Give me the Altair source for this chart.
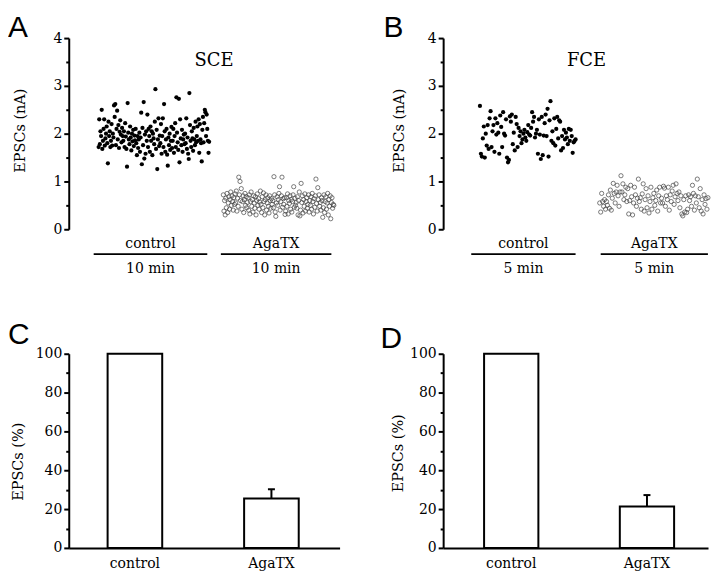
import altair as alt
import pandas as pd

SERIF = "DejaVu Serif"
SANS = "Liberation Sans"

# ---- Panel A (SCE): EPSC amplitude per sweep, nA ----
a_ctrl = [
    1.72, 2.30, 1.78, 2.05, 1.95, 2.50, 1.68, 1.85, 2.10, 2.30, 1.75, 1.90, 2.00, 2.15, 1.80, 1.38, 2.25, 1.95, 2.05, 1.72,
    1.85, 2.20, 1.75, 2.00, 1.92, 2.59, 2.35, 2.62, 1.76, 2.10, 2.48, 1.88, 2.18, 1.70, 2.04, 2.28, 1.98, 1.82, 2.12, 1.95,
    1.85, 2.05, 1.72, 2.22, 1.94, 1.68, 1.31, 2.64, 2.02, 1.88, 1.78, 2.15, 1.92, 1.65, 2.00, 1.84, 2.08, 1.74, 1.96, 1.86,
    2.10, 1.80, 1.55, 1.95, 1.70, 1.88, 2.02, 1.62, 1.92, 2.44, 1.36, 2.12, 1.76, 2.66, 1.48, 1.98, 1.58, 2.05, 1.85, 2.40,
    1.72, 2.10, 1.95, 1.62, 2.15, 1.85, 2.05, 1.55, 2.00, 1.90, 1.78, 2.25, 2.93, 1.68, 2.08, 1.26, 1.88, 2.32, 1.74, 1.96,
    1.80, 2.20, 1.58, 1.95, 2.32, 1.72, 2.62, 2.05, 1.62, 1.88, 2.10, 1.56, 1.33, 1.92, 1.76, 2.00, 1.66, 1.85, 2.14, 1.70,
    1.85, 2.10, 1.60, 1.95, 2.22, 1.72, 2.76, 2.02, 1.82, 1.66, 2.73, 1.40, 2.30, 1.90, 1.76, 2.08, 1.62, 1.88, 1.98, 1.78,
    2.00, 1.80, 2.32, 1.68, 1.92, 1.58, 1.47, 2.85, 2.18, 1.85, 1.72, 2.05, 1.90, 1.64, 2.12, 1.88, 1.76, 2.25, 1.82, 1.95,
    2.15, 1.85, 2.30, 1.60, 2.20, 1.88, 1.80, 1.42, 2.08, 2.35, 1.82, 2.22, 2.50, 2.45, 1.95, 2.40, 2.10, 1.85, 1.60, 1.83,
]
a_aga = [
    0.72, 0.38, 0.60, 0.30, 0.65, 0.45, 0.75, 0.35, 0.55, 0.68, 0.42, 0.62, 0.78, 0.50, 0.70, 0.58, 0.40, 0.66, 0.52, 0.74,
    0.55, 0.80, 0.38, 0.65, 0.48, 1.09, 0.72, 1.00, 0.60, 0.85, 0.42, 0.58, 0.70, 0.35, 0.62, 0.75, 0.50, 0.68, 0.45, 0.56,
    0.66, 0.40, 0.72, 0.32, 0.58, 0.78, 0.48, 0.62, 0.36, 0.70, 0.55, 0.44, 0.68, 0.30, 0.60, 0.74, 0.50, 0.64, 0.42, 0.57,
    0.80, 0.52, 0.35, 0.68, 0.45, 0.76, 0.58, 0.30, 0.62, 0.72, 0.40, 0.55, 0.66, 0.48, 0.34, 0.70, 0.60, 0.44, 0.64, 0.52,
    0.60, 0.45, 1.10, 0.72, 0.36, 0.27, 0.55, 0.68, 0.50, 0.62, 0.75, 0.89, 0.40, 0.58, 0.70, 1.09, 0.46, 0.64, 0.52, 0.66,
    0.31, 0.38, 0.66, 0.48, 0.74, 0.32, 0.60, 0.54, 0.70, 0.42, 0.62, 0.36, 0.58, 0.72, 0.89, 0.46, 0.65, 0.50, 0.56, 0.44,
    0.68, 0.30, 0.60, 0.78, 0.28, 0.40, 0.96, 0.56, 0.70, 0.34, 0.62, 0.48, 0.74, 0.38, 0.58, 0.66, 0.44, 0.52, 0.72, 0.36,
    0.60, 0.50, 0.68, 0.42, 0.75, 0.58, 0.32, 0.64, 0.46, 0.70, 1.05, 0.54, 0.38, 0.87, 0.62, 0.72, 0.48, 0.56, 0.40, 0.66,
    0.60, 0.25, 0.45, 0.72, 0.35, 0.58, 0.68, 0.42, 0.55, 0.75, 0.30, 0.62, 0.48, 0.70, 0.22, 0.56, 0.66, 0.44, 0.52, 0.50,
]
a_aga_first_sweep = 202

# ---- Panel B (FCE) ----
b_ctrl = [
    2.58, 1.58, 1.52, 1.90, 2.15, 1.50, 2.00, 1.75, 2.18, 1.68, 2.32, 2.47, 1.72, 2.05, 2.18, 1.62, 2.32, 1.98, 2.22, 2.02,
    1.58, 2.38, 2.14, 1.72, 2.45, 2.00, 1.96, 2.30, 1.50, 1.40, 1.45, 2.36, 2.25, 2.40, 1.78, 2.02, 1.65, 2.35, 2.20, 1.72,
    2.12, 1.95, 2.05, 1.80, 1.88, 2.00, 2.08, 1.92, 1.85, 2.03, 2.18, 1.98, 1.96, 2.12, 2.45, 2.25, 2.35, 1.92, 2.00, 2.08,
    1.58, 2.30, 1.98, 1.47, 2.35, 1.55, 1.96, 2.22, 2.40, 1.95, 2.52, 1.52, 2.28, 2.68, 1.85, 2.05, 1.80, 2.32, 1.75, 2.10,
    2.35, 1.90, 2.28, 2.25, 1.65, 1.95, 1.70, 2.08, 1.88, 2.02, 1.92, 1.78, 2.10, 1.85, 2.08, 1.95, 1.60, 1.82, 1.85, 1.88,
]
b_aga = [
    0.55, 0.36, 0.75, 0.58, 0.48, 0.62, 0.42, 0.58, 0.50, 0.72, 0.44, 0.82, 0.40, 0.65, 0.96, 0.75, 0.55, 0.78, 0.92, 0.70, 0.48, 0.78,
    1.12, 0.78, 0.95, 0.62, 0.72, 0.88, 0.58, 0.85, 0.32, 0.60, 0.92, 0.68, 0.30, 0.55, 0.88, 0.72, 0.48, 0.65, 1.05, 0.58, 0.66, 0.42, 0.74,
    0.95, 0.38, 0.62, 0.85, 0.45, 0.70, 0.34, 0.58, 0.88, 0.42, 0.66, 0.75, 0.50, 0.60, 0.82, 0.38, 0.70, 0.88, 0.55, 0.65, 0.55, 0.90,
    0.86, 0.48, 0.70, 0.62, 0.88, 0.40, 0.72, 0.58, 0.80, 0.92, 0.52, 0.68, 0.95, 0.75, 0.60, 0.78, 0.45, 0.70, 0.32, 0.28, 0.62, 0.36, 0.70,
    0.35, 0.42, 0.72, 0.60, 0.68, 0.48, 0.92, 0.75, 0.40, 0.70, 0.55, 1.05, 0.68, 0.45, 0.85, 0.38, 0.62, 0.32, 0.72, 0.52, 0.64, 0.42, 0.66,
]
b_aga_first_sweep = 124

# group brackets below the scatter panels (in sweep units)
grp_labels = ["control", "AgaTX"]
a_durs = ["10 min", "10 min"]
a_start = [-8, 198]
a_end = [176, 377]
b_durs = ["5 min", "5 min"]
b_start = [-9, 125]
b_end = [99, 236]

# ---- Panels C and D: normalized EPSCs (%) ----
conds = ["control", "AgaTX"]
c_mean = [100, 25.5]
c_err = [0, 4.7]
d_mean = [100, 21.3]
d_err = [0, 5.9]


def text_layer(txt, x, y, font, size, align="center"):
    return alt.Chart(pd.DataFrame({"t": [txt]})).mark_text(
        font=font, fontSize=size, align=align, baseline="alphabetic", color="black"
    ).encode(x=alt.value(x), y=alt.value(y), text="t:N")


def scatter_panel(ctrl, aga, aga_first, xdom, durs, starts, ends, title, title_x,
                  letter, letter_x, letter_y, ytx, yty, width, height):
    df = pd.DataFrame({
        "sweep": list(range(len(ctrl))) + list(range(aga_first, aga_first + len(aga))),
        "amp": ctrl + aga,
        "cond": ["control"] * len(ctrl) + ["AgaTX"] * len(aga),
    })
    xs = alt.Scale(domain=xdom, nice=False, zero=False)
    ys = alt.Scale(domain=[0, 4], nice=False, zero=True)
    major = alt.Axis(values=[0, 1, 2, 3, 4], orient="left", tickSize=5, labelPadding=2,
                     title="EPSCs (nA)", titleX=ytx, titleY=yty, titleAngle=270,
                     titleBaseline="bottom", titleAlign="center", grid=False)
    minor = alt.Axis(values=[0.5, 1.5, 2.5, 3.5], orient="left", tickSize=3, labels=False,
                     domain=False, title=None, grid=False)
    base = alt.Chart(df)
    pts_c = base.transform_filter("datum.cond == 'control'").mark_point(
        shape="circle", filled=True, size=18, color="black", opacity=1
    ).encode(x=alt.X("sweep:Q", scale=xs, axis=None), y=alt.Y("amp:Q", scale=ys, axis=major))
    pts_a = base.transform_filter("datum.cond == 'AgaTX'").mark_point(
        shape="circle", filled=False, size=18, color="#444444", strokeWidth=0.7, opacity=1
    ).encode(x=alt.X("sweep:Q", scale=xs, axis=None), y=alt.Y("amp:Q", scale=ys, axis=minor))
    gdf = pd.DataFrame({"label": grp_labels, "dur": durs, "start": starts, "end": ends})
    g = alt.Chart(gdf).transform_calculate(mid="(datum.start + datum.end) / 2")
    rules = g.mark_rule(color="black", strokeWidth=1.8).encode(
        x=alt.X("start:Q", scale=xs, axis=None), x2="end:Q", y=alt.value(217))
    lab = g.mark_text(font=SERIF, fontSize=14, align="center", baseline="alphabetic", color="black").encode(
        x=alt.X("mid:Q", scale=xs, axis=None), y=alt.value(211), text="label:N")
    dur = g.mark_text(font=SERIF, fontSize=14, align="center", baseline="alphabetic", color="black").encode(
        x=alt.X("mid:Q", scale=xs, axis=None), y=alt.value(236), text="dur:N")
    ttl = text_layer(title, title_x, 28, SERIF, 18)
    let = text_layer(letter, letter_x, letter_y, SANS, 30, align="left")
    return alt.layer(pts_c, pts_a, rules, lab, dur, ttl, let).resolve_axis(y="independent").properties(
        width=width, height=height)


def bar_panel(means, errs, pad_outer, align, letter, letter_x, letter_y, ytx, yty, width, height):
    df = pd.DataFrame({"cond": conds, "mean": means, "err": errs,
                       "hi": [m + e for m, e in zip(means, errs)]})
    xs = alt.Scale(domain=conds, paddingInner=0.6, paddingOuter=pad_outer, align=align)
    ys = alt.Scale(domain=[0, 100], nice=False)
    xaxis = alt.Axis(title=None, ticks=False, labelAngle=0, labelPadding=9, grid=False)
    major = alt.Axis(values=[0, 20, 40, 60, 80, 100], orient="left", tickSize=5, labelPadding=2,
                     title="EPSCs (%)", titleX=ytx, titleY=yty, titleAngle=270,
                     titleBaseline="bottom", titleAlign="center", grid=False)
    minor = alt.Axis(values=[10, 30, 50, 70, 90], orient="left", tickSize=3, labels=False,
                     domain=False, title=None, grid=False)
    base = alt.Chart(df)
    bars = base.mark_bar(fill="white", stroke="black", strokeWidth=2).encode(
        x=alt.X("cond:N", scale=xs, sort=conds, axis=xaxis),
        y=alt.Y("mean:Q", scale=ys, axis=major))
    eb = base.transform_filter("datum.err > 0").mark_rule(color="black", strokeWidth=2).encode(
        x=alt.X("cond:N", scale=xs, sort=conds, axis=xaxis),
        y=alt.Y("mean:Q", scale=ys, axis=None), y2="hi:Q")
    cap = base.transform_filter("datum.err > 0").mark_tick(
        color="black", thickness=2, size=7, orient="horizontal", opacity=1).encode(
        x=alt.X("cond:N", scale=xs, sort=conds, axis=xaxis),
        y=alt.Y("hi:Q", scale=ys, axis=minor))
    let = text_layer(letter, letter_x, letter_y, SANS, 30, align="left")
    return alt.layer(bars, eb, cap, let).resolve_axis(y="independent").properties(
        width=width, height=height)


W1, W2 = 272, 266
pA = scatter_panel(a_ctrl, a_aga, a_aga_first_sweep, [-48.4, 390.3], a_durs, a_start, a_end,
                   "SCE", 146, "A", -61, -1, -41, 92.5, W1, 192)
pB = scatter_panel(b_ctrl, b_aga, b_aga_first_sweep, [-38.1, 236.1], b_durs, b_start, b_end,
                   "FCE", 144, "B", -60, -1, -37, 92.5, W2, 192)
pC = bar_panel(c_mean, c_err, 0.292, 0.4875, "C", -61, -10, -43, 108, W1, 195)
pD = bar_panel(d_mean, d_err, 0.2757, 0.547, "D", -63, -6, -38, 99.5, W2, 195)

chart = alt.concat(
    pA, pB, pC, pD, columns=2, bounds="flush", align="each",
    spacing={"row": 125, "column": 104},
).properties(padding={"left": 0, "top": 4, "right": 0, "bottom": 0}).configure_view(stroke=None).configure_axis(
    labelFont=SERIF, labelFontSize=14, labelColor="black",
    titleFont=SERIF, titleFontSize=14.5, titleFontWeight="normal", titleColor="black",
    domainColor="black", domainWidth=2, tickColor="black", tickWidth=2,
)

chart.save("out.html", embed_options={"renderer": "svg", "actions": False})
